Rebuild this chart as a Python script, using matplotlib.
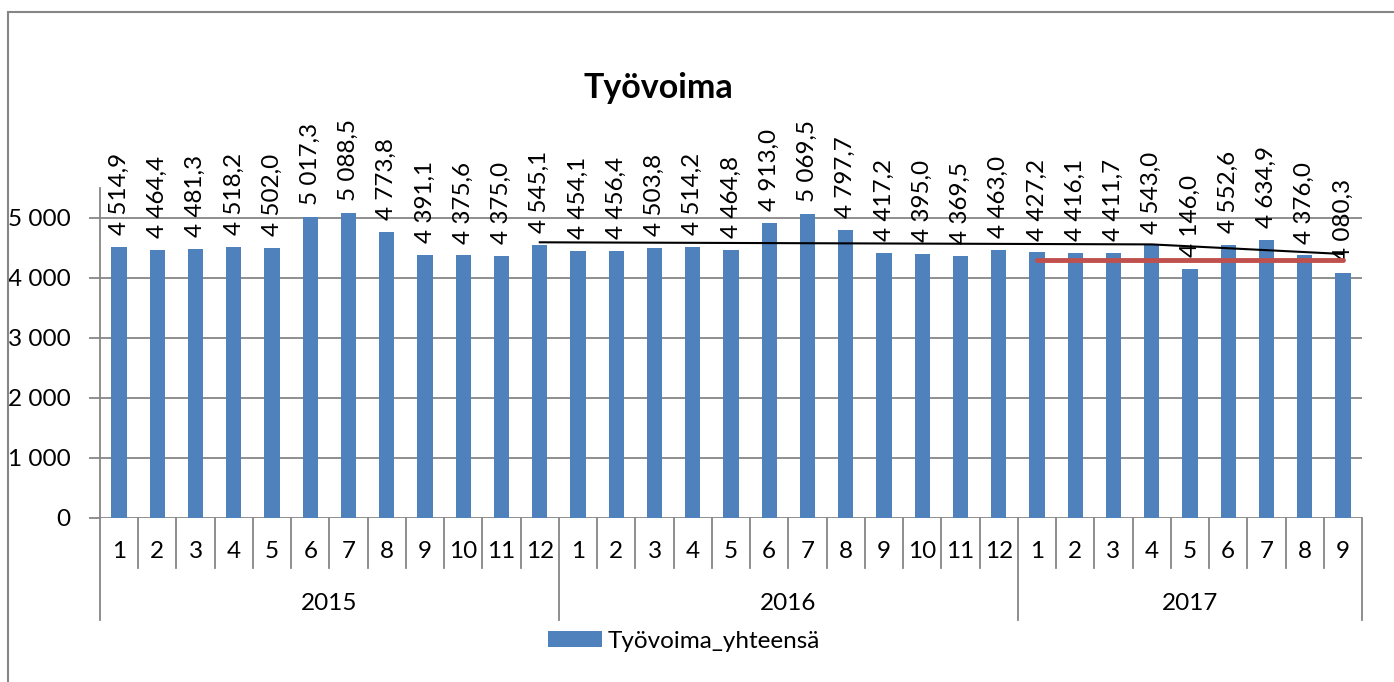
import matplotlib
matplotlib.use("Agg")
import matplotlib.pyplot as plt
from matplotlib.patches import Rectangle
from matplotlib.lines import Line2D
import matplotlib.transforms as mtransforms

plt.rcParams['font.family'] = ['Lato', 'DejaVu Sans']

years = ["2015", "2016", "2017"]
months_per_year = [12, 12, 9]
month_labels = [str(m) for m in range(1, 13)] + [str(m) for m in range(1, 13)] + [str(m) for m in range(1, 10)]
values = [4514.9, 4464.4, 4481.3, 4518.2, 4502.0, 5017.3, 5088.5, 4773.8, 4391.1, 4375.6, 4375.0, 4545.1,
          4454.1, 4456.4, 4503.8, 4514.2, 4464.8, 4913.0, 5069.5, 4797.7, 4417.2, 4395.0, 4369.5, 4463.0,
          4427.2, 4416.1, 4411.7, 4543.0, 4146.0, 4552.6, 4634.9, 4376.0, 4080.3]
series_name = "Työvoima_yhteensä"
title = "Työvoima"
yticks = [0, 1000, 2000, 3000, 4000, 5000]
# black line points (category index, value)
black_x = [11, 27, 32]
black_y = [4595, 4560, 4400]
# red line
red_x = [24, 32]
red_y = [4300, 4300]

W, H = 1394, 682
fig = plt.figure(figsize=(W / 100, H / 100), dpi=100)

def fx(px):
    return px / W

def fy(py):
    return 1 - py / H

# outer border
fig.patches.append(Rectangle((fx(8), fy(700)), fx(1400) - fx(8), fy(12) - fy(700),
                             transform=fig.transFigure, fill=False, edgecolor="#868686",
                             linewidth=1.5))

ax = fig.add_axes([fx(100), fy(518), fx(1362) - fx(100), fy(188) - fy(518)])
x = list(range(len(values)))
bar_color = "#4F81BD"
grid_color = "#868686"
fs = 17.5

bars = ax.bar(x, values, width=0.4, color=bar_color, zorder=3, label=series_name)
ax.set_xlim(-0.5, len(values) - 0.5)
ax.set_ylim(0, 5500)
ax.set_yticks(yticks)
ax.set_yticklabels([f"{v:,}".replace(",", " ") for v in yticks], fontsize=fs)
ax.yaxis.grid(True, color=grid_color, linewidth=1.3, zorder=0)
ax.tick_params(axis='y', length=8, width=1.3, color=grid_color, pad=13)
ax.set_xticks([])
for s in ["top", "right", "bottom"]:
    ax.spines[s].set_visible(False)
ax.spines["left"].set_color(grid_color)
ax.spines["left"].set_linewidth(1.3)
ax.set_axisbelow(True)

# data labels
for xi, v in zip(x, values):
    lab = f"{v:,.1f}".replace(",", " ").replace(".", ",")
    ax.annotate(lab, (xi, v), xytext=(0, 8.5), textcoords="offset points",
                rotation=90, ha="center", va="bottom", fontsize=fs, zorder=4)

# black and red lines
ax.plot(black_x, black_y, color="black", linewidth=1.5, zorder=5)
ax.plot(red_x, red_y, color="#C0504D", linewidth=3.5, solid_capstyle="round", zorder=5)

# multi-level category axis
trans = mtransforms.blended_transform_factory(ax.transData, fig.transFigure)
year_bounds = [-0.5]
for n in months_per_year:
    year_bounds.append(year_bounds[-1] + n)
for b in range(len(values) + 1):
    xb = b - 0.5
    bottom = 620 if xb in year_bounds else 568
    fig.add_artist(Line2D([xb, xb], [fy(518), fy(bottom)], transform=trans,
                          color=grid_color, linewidth=1.3, clip_on=False))
for xi, ml in zip(x, month_labels):
    fig.text(xi, fy(552), ml, transform=trans, ha="center", va="center", fontsize=fs)
for i, yl in enumerate(years):
    mid = (year_bounds[i] + year_bounds[i + 1]) / 2
    fig.text(mid, fy(604), yl, transform=trans, ha="center", va="center", fontsize=fs)

# title
fig.text(fx(658), fy(88), title, ha="center", va="center", fontsize=24.5, fontweight="bold")

# legend
fig.legend(handles=[bars], labels=[series_name], loc="center",
           bbox_to_anchor=(fx(684), fy(641)), frameon=False, fontsize=fs,
           handlelength=2.2, handleheight=0.6, handletextpad=0.25)

fig.savefig("out.png", dpi=100)
